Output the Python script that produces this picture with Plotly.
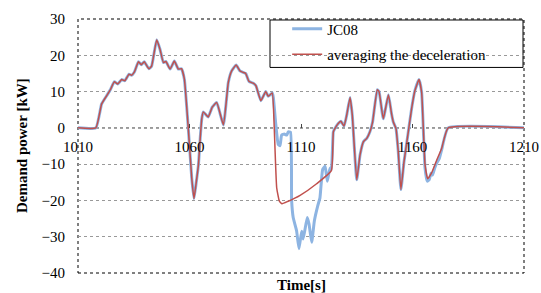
import plotly.graph_objects as go

# common segment 1010-1097
t_a = [1010, 1018, 1020.6, 1022.9, 1024.5, 1026.3, 1027.8, 1029.6, 1031, 1032.9, 1034, 1035.3,
       1037.1, 1038.4, 1039.7, 1041.8, 1043, 1045.3, 1046.8, 1048.3, 1049.4, 1051.3, 1053.2,
       1055, 1056.4, 1057.7, 1059.5, 1061, 1062, 1062.9, 1064, 1064.9, 1065.5, 1066.2, 1068.4,
       1070.2, 1072.2, 1075.2, 1077.4, 1078.9, 1080.9, 1082.6, 1084, 1085.2, 1086.7, 1088.6,
       1089.8, 1092, 1094.2, 1095.3, 1097.1]
v_a = [0, 0, 6.6, 8.9, 10.5, 12.7, 12.1, 13.3, 13.0, 14.8, 14.5, 15.4,
       18.2, 17.4, 18.2, 16.3, 17.0, 24.3, 21.6, 18.0, 18.3, 16.2, 18.4,
       16.2, 16.3, 13.4, -0.5, -13.8, -19.5, -15.6, -10.2, -2.0, 2.5, 4.4, 3.0,
       5.7, 7.0, 0.8, 12.5, 15.7, 17.3, 15.7, 15.3, 15.0, 12.8, 12.3,
       11.6, 7.5, 10.0, 8.7, 9.6]

# JC08 segment 1097-1124
t_jc_mid = [1097.6, 1098.6, 1099.8, 1100.6, 1101.3, 1102.5, 1103.6, 1104.3, 1105.3, 1105.8,
            1106.5, 1108, 1109.1, 1110.3, 1111, 1112.8, 1113.6, 1114.8, 1116, 1117.5, 1118.5,
            1119.7, 1120.8, 1121.8, 1123, 1123.6]
v_jc_mid = [8.4, 1.6, -4.6, -4.9, -2.0, -1.7, -2.0, -1.1, -1.2, -20.0,
            -24.7, -28.3, -33.3, -28.5, -30.6, -24.7, -26.5, -31.5, -25.6, -21.5, -19.3,
            -11.5, -10.6, -14.7, -11.1, -11.5]

# averaged segment 1097-1124
t_avg_mid = [1097.9, 1099.1, 1100.3, 1101.5, 1104, 1109.6, 1117, 1123.6]
v_avg_mid = [1.6, -16.5, -20.2, -20.9, -20.3, -18.6, -15.4, -11.8]

# common segment 1124-1164
t_b = [1124.5, 1125.2, 1126.7, 1127.9, 1129.3, 1130.5, 1132, 1133, 1135, 1136.5, 1138, 1139.5,
       1140.9, 1142.1, 1144.2, 1145, 1146.9, 1149.2, 1150.6, 1151.4, 1152.6, 1153.6, 1154.8,
       1156.2, 1157.7, 1159.6, 1161.1, 1162.9, 1164.1]
v_b = [-1.1, -0.2, 1.2, 1.8, 0.5, 3.5, 8.4, 3.5, -14.3, -7.4, -3.8, -2.9,
       -1.1, 1.6, 10.5, 10.0, 2.5, 9.1, 3.9, 1.6, -0.2, -6.5, -17.0,
       -9.3, -2.9, 5.3, 10.3, 13.3, 9.8]

# tails
t_jc_end = [1165.6, 1166.6, 1167.5, 1168.3, 1169, 1170, 1171, 1172, 1173.1, 1176, 1210]
v_jc_end = [-11.0, -14.7, -14.3, -12.5, -13.0, -11.0, -9.5, -8.5, -6.0, 0, 0]
t_avg_end = [1165.6, 1166.8, 1168.5, 1170.8, 1173.1, 1176, 1210]
v_avg_end = [-10.0, -14.0, -12.5, -9.0, -5.6, 0, 0]

x_ticks = [1010, 1060, 1110, 1160, 1210]
y_ticks = [-40, -30, -20, -10, 0, 10, 20, 30]

t_jc = t_a + t_jc_mid + t_b + t_jc_end
v_jc = v_a + v_jc_mid + v_b + v_jc_end
t_avg = t_a + t_avg_mid + t_b + t_avg_end
v_avg = v_a + v_avg_mid + v_b + v_avg_end

FONT = "Liberation Serif, Times New Roman, serif"

fig = go.Figure()
fig.add_trace(go.Scatter(x=t_jc, y=v_jc, mode="lines", name="JC08", legendgroup="a",
                         line=dict(color="#8DB4E2", width=3, shape="spline", smoothing=0.4)))
fig.add_trace(go.Scatter(x=t_avg, y=v_avg, mode="lines", name="averaging the deceleration",
                         legendgroup="b",
                         line=dict(color="#C0504D", width=1.5, shape="spline", smoothing=0.4)))

fig.update_layout(
    width=541, height=293,
    margin=dict(l=78, r=17, t=16, b=20),
    paper_bgcolor="white", plot_bgcolor="white",
    font=dict(family=FONT, size=15, color="black"),
    showlegend=True,
    legend=dict(x=0.469, y=1.026, xanchor="left", yanchor="top",
                bgcolor="rgba(0,0,0,0)", borderwidth=0, traceorder="grouped",
                font=dict(family=FONT, size=15), tracegroupgap=3),
    xaxis=dict(range=[1010, 1210], tickvals=x_ticks, ticktext=[str(v) for v in x_ticks],
               anchor="free", position=40 / 70, showgrid=False, zeroline=False,
               showline=False, ticks="inside", ticklen=4, tickcolor="#444",
               ticklabelstandoff=8, automargin=False),
    yaxis=dict(range=[-40, 30], tickvals=y_ticks, showgrid=True, gridcolor="#999",
               griddash="dot", gridwidth=1, zeroline=False, showline=False, ticks="",
               ticklabelstandoff=12, automargin=False),
    shapes=[
        dict(type="line", xref="paper", yref="y", x0=0, x1=1, y0=0, y1=0,
             line=dict(color="black", width=1, dash="dot"), layer="below"),
        dict(type="rect", xref="paper", yref="paper", x0=0, x1=1, y0=0, y1=1,
             line=dict(color="black", width=1, dash="dot"), layer="below"),
        dict(type="rect", xref="paper", yref="paper",
             x0=(270 - 78) / 446, x1=(523 - 78) / 446, y0=1 - (65 - 16) / 257, y1=1 - 1 / 257,
             line=dict(color="black", width=1), fillcolor="white", layer="below"),
    ],
    annotations=[
        dict(text="<b>Time[s]</b>", xref="paper", yref="paper", x=0.5, y=-(285 - 273) / 257,
             xanchor="center", yanchor="middle", showarrow=False, font=dict(size=15, family=FONT)),
        dict(text="<b>Demand power [kW]</b>", xref="paper", yref="paper", x=(22 - 78) / 446,
             y=0.5, xanchor="center", yanchor="middle", textangle=-90, showarrow=False,
             font=dict(size=15, family=FONT)),
    ],
)

fig.write_html("out.html", config={"displayModeBar": False},
               post_script="document.body.style.margin='0';document.body.style.overflow='hidden';")
